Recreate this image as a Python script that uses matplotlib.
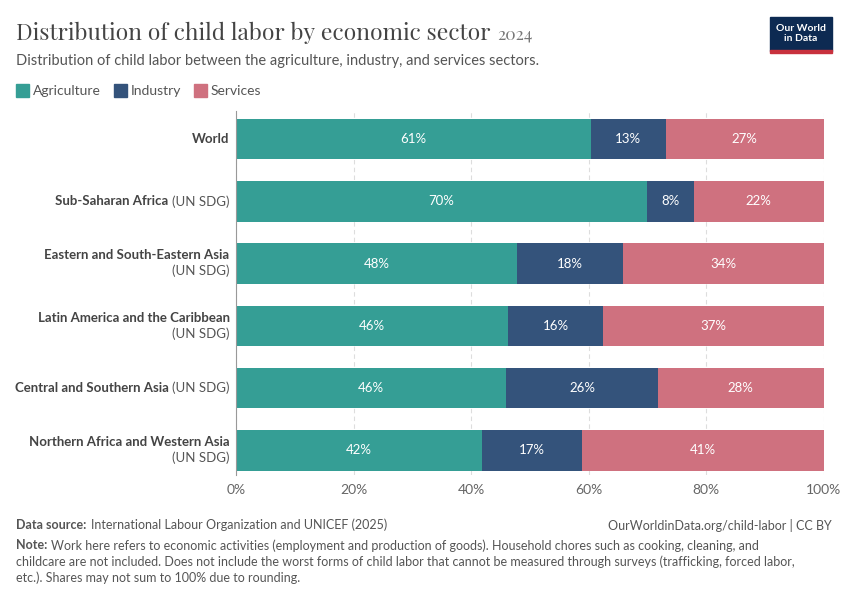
import matplotlib.pyplot as plt
import matplotlib.transforms as mtransforms
import numpy as np

plt.rcParams['font.family'] = ['Lato', 'DejaVu Sans']

# Data
regions = ["World", "Sub-Saharan Africa", "Eastern and South-Eastern Asia",
           "Latin America and the Caribbean", "Central and Southern Asia",
           "Northern Africa and Western Asia"]
suffix = ["", " (UN SDG)", "\n(UN SDG)", "\n(UN SDG)", " (UN SDG)", "\n(UN SDG)"]
agriculture = [60.4, 69.9, 47.8, 46.3, 45.9, 41.8]
industry = [12.7, 8.0, 18.0, 16.2, 25.9, 17.0]
services = [26.9, 22.1, 34.2, 37.5, 28.2, 41.2]
labels_agr = ["61%", "70%", "48%", "46%", "46%", "42%"]
labels_ind = ["13%", "8%", "18%", "16%", "26%", "17%"]
labels_ser = ["27%", "22%", "34%", "37%", "28%", "41%"]

c_agr, c_ind, c_ser = "#359e95", "#34537b", "#cf717f"

fig = plt.figure(figsize=(8.5, 6), dpi=100)
ax = fig.add_axes([0.278, 0.208, 0.691, 0.607])
y = np.arange(len(regions))
h = 0.65
ax.barh(y, agriculture, height=h, color=c_agr)
ax.barh(y, industry, left=agriculture, height=h, color=c_ind)
left2 = np.array(agriculture) + np.array(industry)
ax.barh(y, services, left=left2, height=h, color=c_ser)
for i in y:
    ax.text(agriculture[i] / 2, i, labels_agr[i], ha='center', va='center', color='white', fontsize=9.5)
    ax.text(agriculture[i] + industry[i] / 2, i, labels_ind[i], ha='center', va='center', color='white', fontsize=9.5)
    ax.text(left2[i] + services[i] / 2, i, labels_ser[i], ha='center', va='center', color='white', fontsize=9.5)

ax.set_ylim(len(regions) - 0.5 - 0.1, -0.5 + 0.05)
ax.set_xlim(0, 100)
ax.set_xticks([0, 20, 40, 60, 80, 100])
ax.set_xticklabels(["0%", "20%", "40%", "60%", "80%", "100%"], color="#666666", fontsize=10)
ax.set_yticks([])
ax.tick_params(axis='x', length=0, pad=6)
for s in ax.spines.values():
    s.set_visible(False)
ax.spines['left'].set_visible(True)
ax.spines['left'].set_color('#999999')
ax.grid(axis='x', color='#dddddd', linestyle=(0, (4, 3)), linewidth=0.8)
ax.set_axisbelow(True)

# Region labels
trans = mtransforms.blended_transform_factory(fig.transFigure, ax.transData)
for i, (name, suf) in enumerate(zip(regions, suffix)):
    if suf == "":
        ax.text(0.27, i, name, transform=trans, ha='right', va='center', fontsize=9.5,
                fontweight='bold', color='#444444')
    elif suf.startswith("\n"):
        ax.text(0.27, i - 0.13, name, transform=trans, ha='right', va='center', fontsize=9.5,
                fontweight='bold', color='#444444')
        ax.text(0.27, i + 0.12, "(UN SDG)", transform=trans, ha='right', va='center', fontsize=9.5,
                color='#555555')
    else:
        t = ax.text(0.27, i, suf.strip(), transform=trans, ha='right', va='center', fontsize=9.5,
                    color='#555555')
        fig.canvas.draw()
        bb = t.get_window_extent()
        x0 = bb.x0 / fig.bbox.width - 0.004
        ax.text(x0, i, name, transform=trans, ha='right', va='center', fontsize=9.5,
                fontweight='bold', color='#444444')

# Titles
tt = fig.text(0.019, 0.945, "Distribution of child labor by economic sector", fontsize=16.5,
              family=['Playfair Display', 'DejaVu Serif'], fontweight='bold', color='#444444',
              va='center')
fig.canvas.draw()
tx = tt.get_window_extent().x1 / fig.bbox.width + 0.008
fig.text(tx, 0.943, "2024", fontsize=12.5, color='#777777', va='center',
         family=['Playfair Display', 'DejaVu Serif'])
fig.text(0.019, 0.898, "Distribution of child labor between the agriculture, industry, and services sectors.",
         fontsize=10.5, color='#555555', va='center')

# Legend
lx = 0.019
for lab, col in [("Agriculture", c_agr), ("Industry", c_ind), ("Services", c_ser)]:
    fig.patches.append(plt.Rectangle((lx, 0.838), 0.015, 0.022, transform=fig.transFigure,
                                     color=col, figure=fig))
    t = fig.text(lx + 0.02, 0.848, lab, fontsize=10, color='#555555', va='center')
    fig.canvas.draw()
    lx = t.get_window_extent().x1 / fig.bbox.width + 0.015

# Logo
fig.patches.append(plt.Rectangle((0.906, 0.915), 0.073, 0.057, transform=fig.transFigure,
                                 color='#0d2a52', figure=fig))
fig.patches.append(plt.Rectangle((0.906, 0.912), 0.073, 0.004, transform=fig.transFigure,
                                 color='#c8313d', figure=fig))
fig.text(0.9425, 0.944, "Our World\nin Data", fontsize=7.5, color='white', ha='center',
         va='center', fontweight='bold', linespacing=1.1)

# Footer
fig.text(0.019, 0.125, "Data source:", fontsize=9, color='#555555', fontweight='bold', va='center')
fig.text(0.107, 0.125, "International Labour Organization and UNICEF (2025)", fontsize=9,
         color='#555555', va='center')
fig.text(0.979, 0.125, "OurWorldinData.org/child-labor | CC BY", fontsize=9, color='#555555',
         ha='right', va='center')
fig.text(0.019, 0.091, "Note:", fontsize=9, color='#555555', fontweight='bold', va='center')
fig.text(0.060, 0.091,
         "Work here refers to economic activities (employment and production of goods). Household chores such as cooking, cleaning, and",
         fontsize=9, color='#555555', va='center')
fig.text(0.019, 0.064,
         "childcare are not included. Does not include the worst forms of child labor that cannot be measured through surveys (trafficking, forced labor,",
         fontsize=9, color='#555555', va='center')
fig.text(0.019, 0.037, "etc.). Shares may not sum to 100% due to rounding.",
         fontsize=9, color='#555555', va='center')

fig.savefig("out.png", dpi=100)
